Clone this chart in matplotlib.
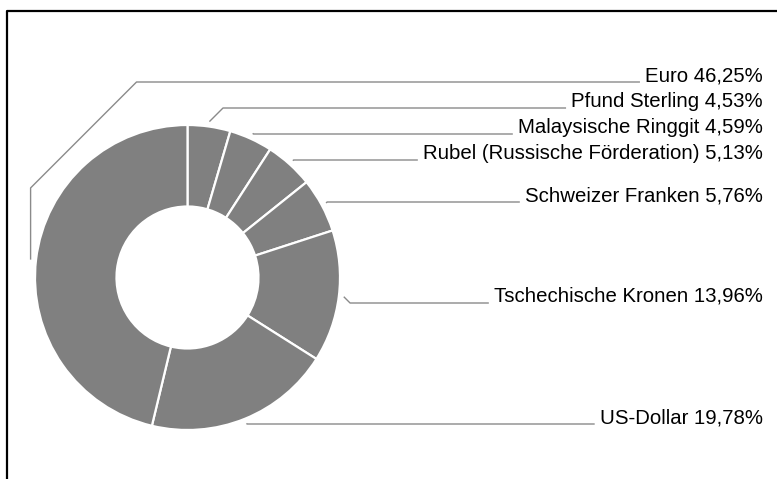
import matplotlib.pyplot as plt
import numpy as np

# Anteile der Währungen (im Uhrzeigersinn ab 12 Uhr)
labels = ['Pfund Sterling', 'Malaysische Ringgit', 'Rubel (Russische Förderation)',
          'Schweizer Franken', 'Tschechische Kronen', 'US-Dollar', 'Euro']
shares = [4.53, 4.59, 5.13, 5.76, 13.96, 19.78, 46.25]
share_txt = ['4,53%', '4,59%', '5,13%', '5,76%', '13,96%', '19,78%', '46,25%']

# Lage der Beschriftungen (Pixel von oben) und senkrechter Vorlauf der Linie
label_y = [108, 134, 160, 202, 303, 424, 82]
rise = [0, 0, 0, 0, 0, 0, 71]

W, H = 777, 479
cx, cy, R, r_in = 187.5, 277.5, 152.5, 71

fig = plt.figure(figsize=(W / 100, H / 100), dpi=100)
ax = fig.add_axes([0, 0, 1, 1])
wedges, _ = ax.pie(shares, startangle=90, counterclock=False, colors=['#808080'] * len(shares),
                   radius=R, center=(cx, H - cy),
                   wedgeprops=dict(width=R - r_in, edgecolor='white', linewidth=1.6))
ax.set_xlim(0, W)
ax.set_ylim(0, H)
ax.set_aspect('auto')
ax.axis('off')

# Rahmen
ax.plot([7, 7, W + 5], [0, H - 11, H - 11], color='black', lw=1.6, solid_capstyle='projecting')

texts = []
for lab, s, ly in zip(labels, share_txt, label_y):
    t = ax.text(763, H - ly + 1, lab + ' ' + s, ha='right', va='baseline',
                fontsize=14.7, family='Liberation Sans', color='black')
    texts.append(t)

fig.canvas.draw()
inv = ax.transData.inverted()
for w, t, ly, up in zip(wedges, texts, label_y, rise):
    mid = np.deg2rad((w.theta1 + w.theta2) / 2)
    x0 = cx + 158 * np.cos(mid)
    y0 = cy - 158 * np.sin(mid)
    bb = t.get_window_extent()
    xe = inv.transform((bb.x0, bb.y0))[0] - 6
    xs = [x0]
    ys = [y0]
    if up:
        xs.append(x0)
        ys.append(y0 - up)
    d = abs(ys[-1] - ly)
    xs += [xs[-1] + d, xe]
    ys += [ly, ly]
    ax.plot(xs, [H - v for v in ys], color='#8a8a8a', lw=1.0)

fig.savefig('out.png', dpi=100)
plt.close(fig)
